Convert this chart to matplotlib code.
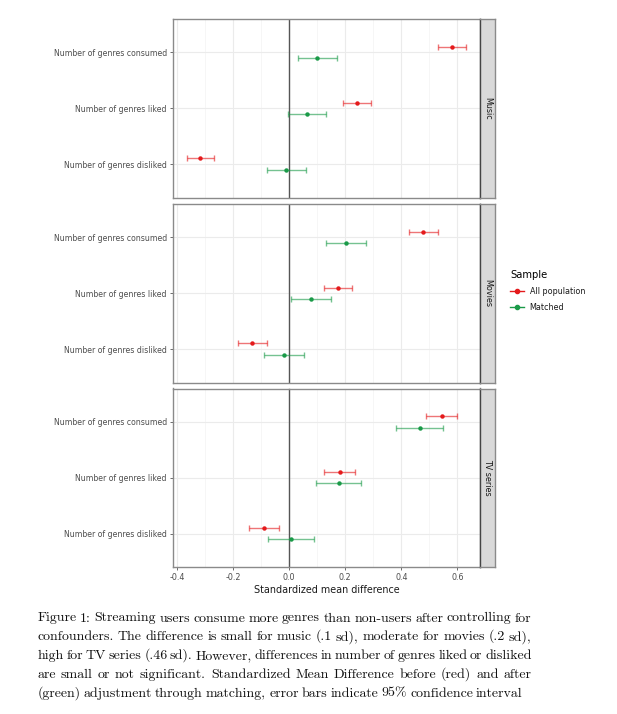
import matplotlib
matplotlib.use('Agg')
import matplotlib.pyplot as plt
from matplotlib.lines import Line2D

# ---------------- data ----------------
facets = ["Music", "Movies", "TV series"]
categories = ["Number of genres consumed", "Number of genres liked", "Number of genres disliked"]
samples = ["All population", "Matched"]

all_est = [[0.581, 0.242, -0.318], [0.479, 0.175, -0.132], [0.544, 0.181, -0.090]]
all_lo = [[0.530, 0.192, -0.366], [0.426, 0.125, -0.182], [0.487, 0.125, -0.145]]
all_hi = [[0.632, 0.293, -0.269], [0.530, 0.225, -0.081], [0.599, 0.236, -0.036]]

matched_est = [[0.100, 0.062, -0.011], [0.203, 0.079, -0.020], [0.466, 0.176, 0.006]]
matched_lo = [[0.030, -0.006, -0.080], [0.130, 0.007, -0.090], [0.382, 0.095, -0.075]]
matched_hi = [[0.170, 0.131, 0.060], [0.275, 0.150, 0.052], [0.548, 0.257, 0.087]]

x_ticks = [-0.4, -0.2, 0.0, 0.2, 0.4, 0.6]
x_ticklabels = ["-0.4", "-0.2", "0.0", "0.2", "0.4", "0.6"]
x_minor = [-0.3, -0.1, 0.1, 0.3, 0.5]
x_label = "Standardized mean difference"
legend_title = "Sample"

caption_lines = [
    "Figure 1: Streaming users consume more genres than non-users after controlling for",
    "confounders. The difference is small for music (.1 sd), moderate for movies (.2 sd),",
    "high for TV series (.46 sd). However, differences in number of genres liked or disliked",
    "are small or not significant.  Standardized Mean Difference before (red) and after",
    "(green) adjustment through matching, error bars indicate 95% confidence interval",
]

# ---------------- style ----------------
W, H = 617, 714
DPI = 100
RED = "#E41A1C"
GREEN = "#1A9A48"
series = [
    (samples[0], all_est, all_lo, all_hi, RED, -0.1),
    (samples[1], matched_est, matched_lo, matched_hi, GREEN, 0.1),
]

fig = plt.figure(figsize=(W / DPI, H / DPI), dpi=DPI)
fig.patch.set_facecolor("white")

def fx(px):
    return px / W

def fy(py):
    return 1 - py / H

panel_left, panel_right = 172.7, 480.0
strip_w = 15.0
panel_tops = [19.0, 204.0, 388.5]
panel_h = 178.5
xlim = (-0.416, 0.681)

for fi, facet in enumerate(facets):
    top = panel_tops[fi]
    ax = fig.add_axes([fx(panel_left), fy(top + panel_h), fx(panel_right - panel_left), panel_h / H])
    ax.set_xlim(*xlim)
    ax.set_ylim(2.6, -0.6)
    ax.set_facecolor("white")
    for s in ax.spines.values():
        s.set_color("#8A8A8A")
        s.set_linewidth(1.0)
    ax.set_xticks(x_ticks)
    ax.set_xticks(x_minor, minor=True)
    ax.set_yticks(range(len(categories)))
    ax.grid(which="major", color="#EBEBEB", linewidth=0.8)
    ax.grid(which="minor", axis="x", color="#F3F3F3", linewidth=0.5)
    ax.set_axisbelow(True)
    ax.axvline(0, color="#555555", linewidth=1.0, zorder=1.5)
    ax.set_yticklabels(categories, fontsize=5.6, color="#4D4D4D")
    ax.tick_params(axis="both", which="major", length=2.2, width=0.6, color="#555555", pad=2)
    ax.tick_params(axis="x", which="minor", length=0)
    if fi == len(facets) - 1:
        ax.set_xticklabels(x_ticklabels, fontsize=5.8, color="#4D4D4D")
        ax.set_xlabel(x_label, fontsize=6.9, color="#1A1A1A", labelpad=2)
    else:
        ax.tick_params(axis="x", which="both", labelbottom=False, length=0)

    for name, est, lo, hi, col, off in series:
        ys = [i + off for i in range(len(categories))]
        e = est[fi]
        xerr = [[e[i] - lo[fi][i] for i in range(len(e))], [hi[fi][i] - e[i] for i in range(len(e))]]
        ax.errorbar(e, ys, xerr=xerr, fmt="none", ecolor=col, elinewidth=1.0,
                    capsize=2.1, capthick=1.0, alpha=0.6, zorder=3)
        ax.plot(e, ys, "o", color=col, markersize=3.2, zorder=4, markeredgewidth=0)

    # strip
    sax = fig.add_axes([fx(panel_right), fy(top + panel_h), fx(strip_w), panel_h / H])
    sax.set_xticks([])
    sax.set_yticks([])
    sax.set_facecolor("#D9D9D9")
    for s in sax.spines.values():
        s.set_color("#8A8A8A")
        s.set_linewidth(1.0)
    sax.spines["left"].set_color("#444444")
    sax.text(0.5, 0.5, facet, rotation=-90, ha="center", va="center",
             fontsize=5.8, color="#1A1A1A", transform=sax.transAxes)

# legend
handles = [Line2D([0], [0], color=c, marker="o", markersize=3.0, linewidth=1.0) for _, _, _, _, c, _ in series]
leg = fig.legend(handles, samples, title=legend_title, loc="upper left",
                 bbox_to_anchor=(fx(507), fy(267)), frameon=False, fontsize=5.8,
                 title_fontsize=7.2, handlelength=1.7, handletextpad=0.7,
                 labelspacing=0.85, borderaxespad=0)
leg._legend_box.align = "left"
for t in leg.get_texts():
    t.set_color("#1A1A1A")

# caption (justified)
cap_kw = dict(family=["cmr10", "DejaVu Serif"], fontsize=10.0, color="#111111")
x0 = 37.5
line_ends = [531.5, 531.5, 531.5, 531.5, 522.7]
baselines = [621.5, 640.3, 659.1, 677.9, 696.7]
renderer = fig.canvas.get_renderer()

def width_px(s):
    t = fig.text(0, 0, s, **cap_kw)
    w = t.get_window_extent(renderer).width
    t.remove()
    return w

for li, line in enumerate(caption_lines):
    yb = fy(baselines[li])
    words = line.split()
    widths = [width_px(w) for w in words]
    gap = (line_ends[li] - x0 - sum(widths)) / (len(words) - 1)
    x = x0
    for w, wd in zip(words, widths):
        fig.text(fx(x), yb, w, va="baseline", ha="left", **cap_kw)
        x += wd + gap

fig.savefig("out.png", dpi=DPI, facecolor="white")
